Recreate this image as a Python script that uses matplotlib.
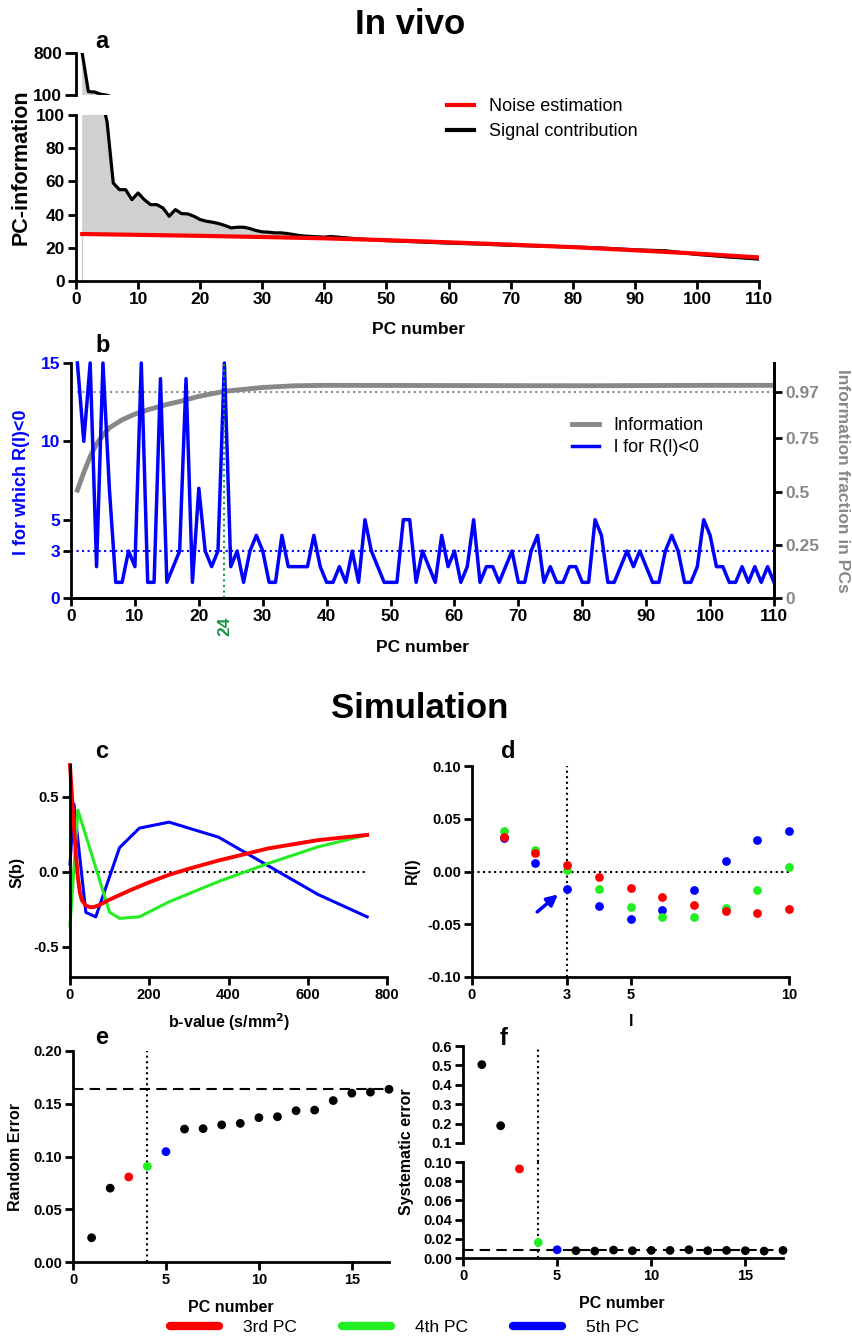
import matplotlib
matplotlib.use("Agg")
import matplotlib.pyplot as plt
from matplotlib.lines import Line2D

plt.rcParams['font.family'] = ['Liberation Sans', 'DejaVu Sans']
plt.rcParams['axes.unicode_minus'] = False

W, H = 852, 1336

# ----- panel a: PC information (in vivo) -----
a_sig_pc = list(range(1, 38)) + [40, 41, 45, 50, 55, 60, 65, 70, 75, 80, 85, 90, 95, 100, 105, 110]
a_sig = [795, 155, 150, 112, 96, 59, 55, 55, 49, 53, 49, 46, 46, 44, 39, 43, 40.6, 40.4, 39, 37,
         36, 35.4, 34.6, 33.4, 32, 32.4, 32.4, 31.6, 30.4, 29.6, 29.4, 29, 29, 28.6, 28, 27.4, 27,
         26.4, 26.8, 25.5, 24.3, 23.6, 22.8, 22.3, 21.5, 21.0, 20.5, 19.8, 18.8, 18.2, 16.0, 14.5, 13.2]
a_noise_pc = [1, 10, 20, 30, 40, 50, 60, 70, 80, 90, 100, 110]
a_noise = [28.3, 27.8, 27.2, 26.5, 25.7, 24.6, 23.3, 21.9, 20.4, 18.5, 16.5, 14.2]

# ----- panel b: l for which R(l)<0 and information fraction -----
b_pc = list(range(1, 111))
b_l = [15, 10, 15, 2, 15, 7, 1, 1, 3, 2, 15, 1, 1, 14, 1, 2, 3, 14, 1, 7,
       3, 2, 3, 15, 2, 3, 1, 3, 4, 3, 1, 1, 4, 2, 2, 2, 2, 4, 2, 1,
       1, 2, 1, 3, 1, 5, 3, 2, 1, 1, 1, 5, 5, 1, 3, 2, 1, 4, 2, 3,
       1, 2, 5, 1, 2, 2, 1, 2, 3, 1, 1, 3, 4, 1, 2, 1, 1, 2, 2, 1,
       1, 5, 4, 1, 1, 2, 3, 2, 3, 2, 1, 1, 3, 4, 3, 1, 1, 2, 5, 4,
       2, 2, 1, 1, 2, 1, 2, 1, 2, 1]
b_info_pc = [1, 2, 3, 4, 5, 6, 8, 10, 12, 15, 17, 20, 24, 30, 35, 40, 60, 80, 100, 110]
b_info = [0.507, 0.59, 0.665, 0.725, 0.765, 0.80, 0.838, 0.865, 0.885, 0.91, 0.924, 0.948,
          0.972, 0.99, 0.998, 1.0, 0.999, 0.998, 1.0, 1.0]
b_cut_pc = 24
b_info_level = 0.97
b_l_level = 3

# ----- panel c: PC shapes S(b) -----
c_b_red = [0, 5, 10, 15, 20, 25, 30, 40, 50, 60, 75, 100, 150, 200, 250, 300, 375, 500, 625, 750]
c_red = [0.71, 0.5, 0.3, 0.11, -0.04, -0.14, -0.19, -0.225, -0.235, -0.235, -0.22, -0.185,
         -0.125, -0.07, -0.02, 0.02, 0.075, 0.155, 0.21, 0.245]
c_b_green = [0, 20, 100, 125, 175, 250, 375, 500, 625, 750]
c_green = [-0.36, 0.41, -0.27, -0.31, -0.30, -0.20, -0.065, 0.055, 0.165, 0.245]
c_b_blue = [0, 10, 40, 65, 125, 175, 250, 375, 500, 625, 750]
c_blue = [0.05, 0.45, -0.27, -0.30, 0.16, 0.29, 0.33, 0.23, 0.04, -0.15, -0.30]

# ----- panel d: R(l) -----
d_l = list(range(1, 11))
d_red = [0.033, 0.0174, 0.0057, -0.005, -0.0152, -0.0244, -0.0316, -0.037, -0.0396, -0.0358]
d_green = [0.0386, 0.020, 0.001, -0.017, -0.034, -0.0427, -0.0434, -0.0345, -0.018, 0.0047]
d_blue = [0.0316, 0.0079, -0.0165, -0.033, -0.0446, -0.0367, -0.0177, 0.0101, 0.030, 0.0386]

# ----- panels e, f: random / systematic error -----
ef_pc = list(range(1, 18))
e_err = [0.023, 0.070, 0.0806, 0.0907, 0.1046, 0.126, 0.1264, 0.130, 0.1314, 0.1368, 0.1377,
         0.1434, 0.144, 0.153, 0.160, 0.161, 0.1637]
e_level = 0.164
f_err = [0.504, 0.189, 0.0928, 0.0162, 0.0086, 0.0076, 0.0072, 0.0083, 0.0076, 0.0079, 0.0079,
         0.0086, 0.0076, 0.0079, 0.0076, 0.0072, 0.0079]
f_level = 0.008
f_break = 0.1
ef_cut = 4

RED, GREEN, BLUE = '#ff0000', '#22ee22', '#0000ff'
GRAY = '#888888'
DGREEN = '#1a9641'
pc_colors = ['black', 'black', RED, GREEN, BLUE] + ['black'] * 12

fig = plt.figure(figsize=(W / 100, H / 100), dpi=100)


def box(x0, y0, x1, y1):
    return fig.add_axes([x0 / W, 1 - y1 / H, (x1 - x0) / W, (y1 - y0) / H])


def style(ax, right=False):
    ax.spines['top'].set_visible(False)
    ax.spines['right'].set_visible(right)
    for s in ax.spines.values():
        s.set_linewidth(2)
    ax.tick_params(direction='out', width=2, length=6, pad=2)


def ticks(ax, axis, vals, labels, size, color='black'):
    if axis == 'x':
        ax.set_xticks(vals, labels, fontsize=size, fontweight='bold', color=color)
    else:
        ax.set_yticks(vals, labels, fontsize=size, fontweight='bold', color=color)


def label(x, y, s, size, rot=0, color='black', weight='bold', va='center'):
    fig.text(x / W, 1 - y / H, s, fontsize=size, rotation=rot, color=color,
             weight=weight, ha='center', va=va)


# ================= panel a =================
axa_t = box(76, 53, 759, 95)
axa = box(76, 115, 759, 281)
poly_x = a_sig_pc + a_noise_pc[::-1]
poly_y = a_sig + a_noise[::-1]
for ax in (axa_t, axa):
    ax.fill(poly_x, poly_y, color='#d0d0d0', lw=0)
    ax.plot(a_sig_pc, a_sig, color='black', lw=2.3)
    ax.set_xlim(0, 110)
axa.plot([a_noise_pc[0]] * 2, [0, a_noise[0]], color='#cccccc', lw=1)
axa.plot(a_noise_pc, a_noise, color=RED, lw=3, label='Noise estimation')
axa.plot([], [], color='black', lw=3, label='Signal contribution')

style(axa_t)
axa_t.spines['bottom'].set_visible(False)
axa_t.set_ylim(100, 800)
axa_t.set_xticks([])
ticks(axa_t, 'y', [100, 800], ['100', '800'], 12.5)
axa_t.tick_params(axis='y', length=8)

style(axa)
axa.set_ylim(0, 100)
ticks(axa, 'y', list(range(0, 101, 20)), [str(v) for v in range(0, 101, 20)], 12.5)
ticks(axa, 'x', list(range(0, 111, 10)), [str(v) for v in range(0, 111, 10)], 12.5)
axa.legend(loc='upper left', bbox_to_anchor=(0.52, 1.2), frameon=False, fontsize=13,
           handlelength=1.5, handletextpad=0.8, labelspacing=0.45)

label(21, 167, 'PC-information', 15.5, rot=90)
label(418, 330, 'PC number', 12.5)

# ================= panel b =================
axb = box(71, 363, 774, 598)
axb2 = axb.twinx()
axb.set_zorder(axb2.get_zorder() + 1)
axb.patch.set_visible(False)

axb2.plot(b_info_pc, b_info, color=GRAY, lw=3.5, label='Information')
axb2.hlines(b_info_level, 1, 110, color=GRAY, lw=1.5, linestyles=':')
axb.plot(b_pc, b_l, color=BLUE, lw=2.5, clip_on=False, label='l for R(l)<0')
axb.hlines(b_l_level, 0, 110, color=BLUE, lw=1.5, linestyles=':')
axb.vlines(b_cut_pc, 0, 15, color=DGREEN, lw=1.5, linestyles=':')

style(axb, right=True)
style(axb2, right=True)
axb2.spines['left'].set_visible(False)
axb.set_xlim(0, 110)
axb.set_ylim(0, 15)
axb2.set_ylim(0, 1.105)
ticks(axb, 'x', list(range(0, 111, 10)), [str(v) for v in range(0, 111, 10)], 12.5)
ticks(axb, 'y', [0, 3, 5, 10, 15], ['0', '3', '5', '10', '15'], 12.5, color=BLUE)
ticks(axb2, 'y', [0, 0.25, 0.5, 0.75, 0.97], ['0', '0.25', '0.5', '0.75', '0.97'], 12.5, color=GRAY)
axb.text(b_cut_pc, -0.08, str(b_cut_pc), transform=axb.get_xaxis_transform(), rotation=90,
         ha='center', va='top', fontsize=12.5, weight='bold', color=DGREEN)
hb = [axb2.get_lines()[0], axb.get_lines()[0]]
axb.legend(hb, [h.get_label() for h in hb], loc='upper left', bbox_to_anchor=(0.69, 0.84),
           frameon=False, fontsize=13, handlelength=1.5, handletextpad=0.8, labelspacing=0.3)

label(22, 482, 'l for which R(l)<0', 13, rot=90, color=BLUE)
label(842, 481, 'Information fraction in PCs', 12.6, rot=270, color=GRAY)
label(422, 648, 'PC number', 12.5)

# ================= panel c =================
axc = box(70, 765, 387, 977)
axc.hlines(0, 0, 750, color='black', lw=1.5, linestyles=':')
axc.plot(c_b_blue, c_blue, color=BLUE, lw=2.2, clip_on=False)
axc.plot(c_b_green, c_green, color=GREEN, lw=2.2, clip_on=False)
axc.plot(c_b_red, c_red, color=RED, lw=2.8, clip_on=False)
style(axc)
axc.set_xlim(0, 800)
axc.set_ylim(-0.7, 0.71)
ticks(axc, 'x', [0, 200, 400, 600, 800], ['0', '200', '400', '600', '800'], 10.5)
ticks(axc, 'y', [-0.5, 0, 0.5], ['-0.5', '0.0', '0.5'], 10.5)
label(17, 872, 'S(b)', 11.5, rot=90)
label(229, 1022, 'b-value (s/mm$^\\mathbf{2}$)', 11.5)

# ================= panel d =================
axd = box(472, 766, 789, 977)
axd.hlines(0, 0, 10, color='black', lw=1.5, linestyles=':')
axd.vlines(3, -0.1, 0.1, color='black', lw=1.5, linestyles=':')
axd.scatter(d_l, d_blue, s=40, color=BLUE, lw=0, clip_on=False, zorder=3)
axd.scatter(d_l, d_green, s=40, color=GREEN, lw=0, clip_on=False, zorder=3)
axd.scatter(d_l, d_red, s=40, color=RED, lw=0, clip_on=False, zorder=3)
axd.annotate('', xy=(2.78, -0.020), xytext=(1.99, -0.040),
             arrowprops=dict(arrowstyle='-|>', color=BLUE, lw=2.5, mutation_scale=16))
style(axd)
axd.set_xlim(0, 10)
axd.set_ylim(-0.1, 0.1)
ticks(axd, 'x', [0, 3, 5, 10], ['0', '3', '5', '10'], 10.5)
ticks(axd, 'y', [-0.1, -0.05, 0, 0.05, 0.1], ['-0.10', '-0.05', '0.00', '0.05', '0.10'], 10.5)
label(412, 871, 'R(l)', 11.5, rot=90)
label(631, 1022, 'l', 11.5)

# ================= panel e =================
axe = box(73, 1051, 389, 1262)
axe.hlines(e_level, 0, 17, color='black', lw=1.5, linestyles=(0, (5, 3)))
axe.vlines(ef_cut, 0, 0.2, color='black', lw=1.5, linestyles=':')
axe.scatter(ef_pc, e_err, s=40, c=pc_colors, lw=0, clip_on=False, zorder=3)
style(axe)
axe.set_xlim(0, 17)
axe.set_ylim(0, 0.2)
ticks(axe, 'x', [0, 5, 10, 15], ['0', '5', '10', '15'], 10.5)
ticks(axe, 'y', [0, 0.05, 0.1, 0.15, 0.2], ['0.00', '0.05', '0.10', '0.15', '0.20'], 10.5)
label(16, 1157, 'Random Error', 11.5, rot=90)
label(231, 1307, 'PC number', 11.5)

# ================= panel f (broken axis) =================
axf_t = box(463, 1046, 783, 1143)
axf = box(463, 1162, 783, 1258)
hi = [i for i, v in enumerate(f_err) if v >= f_break]
lo = [i for i, v in enumerate(f_err) if v < f_break]
axf_t.scatter([ef_pc[i] for i in hi], [f_err[i] for i in hi], s=40,
              c=[pc_colors[i] for i in hi], lw=0, zorder=3, clip_on=False)
axf.scatter([ef_pc[i] for i in lo], [f_err[i] for i in lo], s=40,
            c=[pc_colors[i] for i in lo], lw=0, zorder=3, clip_on=False)
for ax in (axf_t, axf):
    ax.set_xlim(0, 17)
axf.hlines(f_level, 0, 17, color='black', lw=1.5, linestyles=(0, (5, 3)))
axf.axvline(ef_cut, 0, 1, color='black', lw=1.5, ls=':')
axf_t.axvline(ef_cut, -0.2, 1, color='black', lw=1.5, ls=':', clip_on=False)
style(axf_t)
axf_t.spines['bottom'].set_visible(False)
axf_t.set_xticks([])
axf_t.set_ylim(f_break, 0.6)
ticks(axf_t, 'y', [0.1, 0.2, 0.3, 0.4, 0.5, 0.6], ['0.1', '0.2', '0.3', '0.4', '0.5', '0.6'], 10.5)
style(axf)
axf.set_ylim(0, f_break)
ticks(axf, 'y', [0, 0.02, 0.04, 0.06, 0.08, 0.1],
      ['0.00', '0.02', '0.04', '0.06', '0.08', '0.10'], 10.5)
ticks(axf, 'x', [0, 5, 10, 15], ['0', '5', '10', '15'], 10.5)
label(407, 1152, 'Systematic error', 11.5, rot=90)
label(622, 1303, 'PC number', 11.5)

# ================= titles, panel letters, bottom legend =================
label(410, 25, 'In vivo', 25)
label(420, 708, 'Simulation', 25)
for ch, x, y in [('a', 102, 48), ('b', 103, 352), ('c', 102, 758), ('d', 508, 758),
                 ('e', 102, 1044), ('f', 504, 1045)]:
    label(x, y, ch, 17, va='baseline')

leg_h = [Line2D([], [], color=c, lw=6, solid_capstyle='round') for c in (RED, GREEN, BLUE)]
fig.legend(leg_h, ['3rd PC', '4th PC', '5th PC'], loc='center', bbox_to_anchor=(405 / W, 1 - 1327 / H),
           ncol=3, frameon=False, fontsize=12.5, handlelength=2.8, handletextpad=1.4,
           columnspacing=2.6)

fig.savefig('out.png', dpi=100)
